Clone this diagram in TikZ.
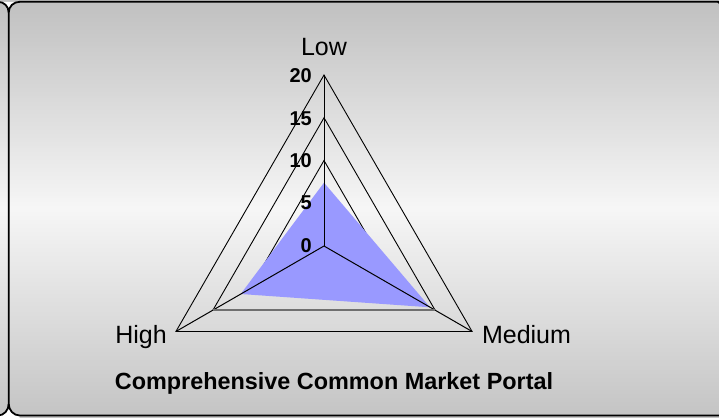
\documentclass[tikz,border=0pt]{standalone}
\usepackage{fontspec}
\setmainfont{Liberation Sans}
\definecolor{bgtop}{HTML}{C0C0C0}
\definecolor{bgmid}{HTML}{F6F6F6}
\definecolor{bgbot}{HTML}{C4C4C4}
\definecolor{areafill}{HTML}{9999FF}
\definecolor{baseline15}{HTML}{707070}
\begin{document}
\begin{tikzpicture}[x=1pt,y=-1pt,
  grid/.style={black,line width=0.9pt},
  spoke/.style={black,line width=1pt},
  axlab/.style={font=\fontsize{25}{30}\selectfont,anchor=base,inner sep=0pt},
  numlab/.style={font=\bfseries\fontsize{20}{24}\selectfont,anchor=base east,inner sep=0pt},
  titlelab/.style={font=\bfseries\fontsize{23.4}{28}\selectfont,anchor=base,inner sep=0pt},
  framestyle/.style={black,line width=1.8pt}]
\useasboundingbox (0,0) rectangle (719,417);
\clip (0,0) rectangle (719,417);
% background gradient
\foreach \i in {0,2,...,208}{
  \pgfmathsetmacro\p{\i/2.08}
  \fill[bgmid!\p!bgtop] (0,\i) rectangle (719,\i+2.6);
}
\foreach \i in {208,210,...,416}{
  \pgfmathsetmacro\p{(416-\i)/2.08}
  \fill[bgmid!\p!bgbot] (0,\i) rectangle (719,\i+2.6);
}
% frame
\coordinate (jt) at (8.7,12.5);
\coordinate (jb) at (8.7,404);
\fill[white] (jt) .. controls (8.7,7) and (4,1.8) .. (-2,1.8) -- (19.7,1.8) .. controls (13.5,1.8) and (8.7,7) .. (jt);
\fill[white] (jb) .. controls (8.7,410) and (4,415.5) .. (-2,415.5) -- (-2,418) -- (19.7,418) -- (19.7,415.5) .. controls (13.5,415.5) and (8.7,410) .. (jb);
\draw[framestyle] (jb) -- (jt) .. controls (8.7,6.5) and (13.5,1.8) .. (19.7,1.8) -- (718,1.8) -- (725,8) -- (725,415.5) -- (19.7,415.5) .. controls (13.5,415.5) and (8.7,410) .. (jb);
\draw[framestyle] (jt) .. controls (8.7,6.5) and (4,1.8) .. (-2,1.8);
\draw[framestyle] (jb) .. controls (8.7,410) and (4,415.5) .. (-2,415.5);
% grid
\coordinate (c) at (324,246);
\foreach \k in {5,10,15,20}{
  \coordinate (L\k) at (324,{246-8.55*\k});
  \coordinate (M\k) at ({324+0.866*8.55*\k},{246+0.5*8.55*\k});
  \coordinate (H\k) at ({324-0.866*8.55*\k},{246+0.5*8.55*\k});
}
\foreach \k in {5,10,15,20}{
  \draw[grid] (L\k) -- (M\k) -- (H\k) -- cycle;
}
% data area
\coordinate (bL) at (324,182.7);
\coordinate (bM) at (430,307.3);
\coordinate (bH) at (240.7,294);
\fill[areafill] (bL) -- (bM) -- (bH) -- cycle;
% spokes
\draw[spoke] (c) -- (L20);
\draw[spoke] (c) -- (M20);
\draw[spoke] (c) -- (H20);
\draw[baseline15,line width=1.8pt] (H15) -- (M15);
% labels
\node[axlab] (low) at (324,56) {Low};
\node[axlab] (high) at (141,343) {High};
\node[axlab] (medium) at (526.5,343) {Medium};
\node[titlelab] (title) at (334,389) {Comprehensive Common Market Portal};
\node[numlab] (n20) at (312,83) {20};
\node[numlab] (n15) at (312,125) {15};
\node[numlab] (n10) at (312,167.5) {10};
\node[numlab] (n5) at (312,209.5) {5};
\node[numlab] (n0) at (312,252) {0};
\end{tikzpicture}
\end{document}
